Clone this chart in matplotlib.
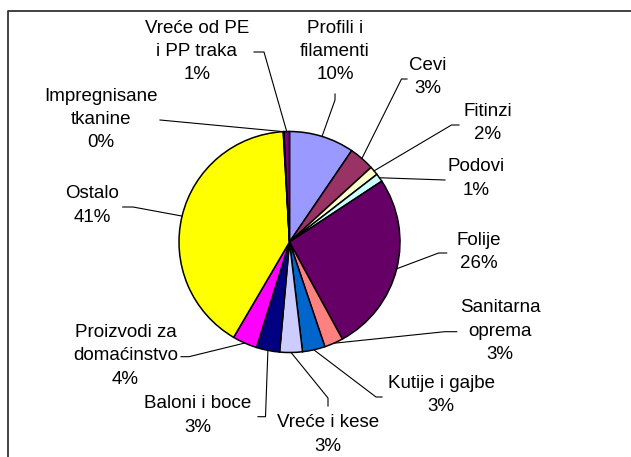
import matplotlib
matplotlib.use("Agg")
import matplotlib.pyplot as plt
import numpy as np

categories = ["Profili i\nfilamenti", "Cevi", "Fitinzi", "Podovi", "Folije",
              "Sanitarna\noprema", "Kutije i gajbe", "Vreće i kese", "Baloni i boce",
              "Proizvodi za\ndomaćinstvo", "Ostalo", "Impregnisane\ntkanine",
              "Vreće od PE\ni PP traka"]
values = [9.5, 3.7, 1.3, 1.2, 26.3, 2.75, 3.3, 3.3, 3.4, 3.6, 40.6, 0.1, 0.8]
pct_labels = ["10%", "3%", "2%", "1%", "26%", "3%", "3%", "3%", "3%", "4%", "41%", "0%", "1%"]
colors = ["#9999FF", "#993366", "#FFFFCC", "#CCFFFF", "#660066", "#FF8080", "#0066CC",
          "#CCCCFF", "#000080", "#FF00FF", "#FFFF00", "#00FFFF", "#800080"]

# layout (pixel positions, origin top-left)
label_pos = [(335, 51.5), (428, 77), (488, 123), (476, 178.5), (479, 252),
             (500, 331), (441, 395), (328, 434.5), (198, 415.5),
             (125.5, 356), (92, 205.5), (101, 119.5), (197, 51.5)]
leader_start = [(335, 94), (407, 79), (459, 125), (445, 180), (446.7, 253),
                (456.7, 331.7), (382, 397), (328, 406), (258, 416.7),
                (181, 356.7), (122.7, 207), (160, 120), (254, 52)]
leader_knee = [(335, 100), (401.5, 79), (451.5, 125), (445, 180), (438.6, 253),
               (444.7, 331.7), (376, 397), (328, 398), (265.5, 416.7),
               (189, 356.7), (133, 207), (160, 120), (264, 52)]

W, H = 631, 457
fig = plt.figure(figsize=(W / 100, H / 100), dpi=100)
ax = fig.add_axes([0, 0, 1, 1])
cx, cy, r = 289.5, 242, 110.5
wedges, _ = ax.pie(values, colors=colors, startangle=-90, counterclock=True,
                   center=(cx, cy), radius=r,
                   wedgeprops=dict(edgecolor="black", linewidth=1.1))
ax.set_xlim(0, W)
ax.set_ylim(H, 0)
ax.set_aspect("equal")
ax.axis("off")

font = dict(family="Liberation Sans", size=13.5)
for i, w in enumerate(wedges):
    mid = np.deg2rad((w.theta1 + w.theta2) / 2)
    ex, ey = cx + r * np.cos(mid), cy + r * np.sin(mid)
    (sx, sy), (kx, ky) = leader_start[i], leader_knee[i]
    ax.plot([sx, kx, ex], [sy, ky, ey], color="black", lw=0.8, zorder=3)
    tx, ty = label_pos[i]
    ax.text(tx, ty, categories[i] + "\n" + pct_labels[i], ha="center", va="center",
            linespacing=1.48, color="black", **font)

# chart border
ax.plot([8, 8, W + 5], [H + 5, 11, 11], color="#333333", lw=1.3, clip_on=False)

fig.savefig("out.png", dpi=100)
